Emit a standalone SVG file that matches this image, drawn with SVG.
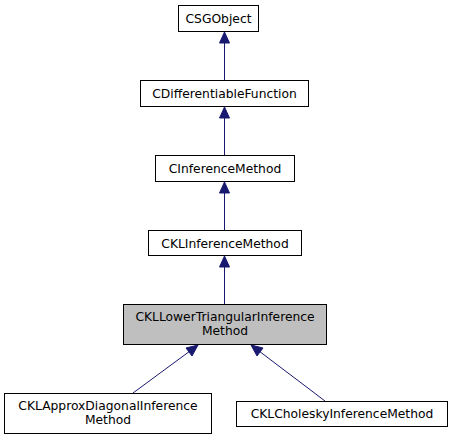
<svg xmlns="http://www.w3.org/2000/svg" width="453" height="440" viewBox="0 0 453 440">
<style>
.box{fill:#ffffff;stroke:#000000;stroke-width:1}
.cur{fill:#bfbfbf;stroke:#000000;stroke-width:1}
text{font-family:"DejaVu Sans",sans-serif;font-size:12.3px;fill:#000000;text-anchor:middle}
.edge{stroke:#191970;stroke-width:1;fill:none}
.head{fill:#191970;stroke:#191970;stroke-width:1}
</style>
<rect width="453" height="440" fill="#ffffff"/>
<g id="connectors">
<line class="edge" x1="224.5" y1="81" x2="224.5" y2="42"/>
<polygon class="head" points="224.5,32 219.5,43 229.5,43"/>
<line class="edge" x1="224.5" y1="156" x2="224.5" y2="117"/>
<polygon class="head" points="224.5,107 219.5,118 229.5,118"/>
<line class="edge" x1="224.5" y1="231" x2="224.5" y2="192"/>
<polygon class="head" points="224.5,182 219.5,193 229.5,193"/>
<line class="edge" x1="224.5" y1="305" x2="224.5" y2="266"/>
<polygon class="head" points="224.5,256 219.5,267 229.5,267"/>
<line class="edge" x1="133" y1="393" x2="190" y2="351"/>
<polygon class="head" points="198,345 186,348 192,356"/>
<line class="edge" x1="325" y1="401" x2="259" y2="351"/>
<polygon class="head" points="251,345 257,356 263,348"/>
</g>
<g id="node-csgobject">
<rect class="box" x="178.5" y="5.5" width="80" height="26"/>
<text x="218.5" y="23">CSGObject</text>
</g>
<g id="node-cdifferentiablefunction">
<rect class="box" x="140.5" y="80.5" width="168" height="26"/>
<text x="224.5" y="98">CDifferentiableFunction</text>
</g>
<g id="node-cinferencemethod">
<rect class="box" x="155.5" y="155.5" width="139" height="26"/>
<text x="225" y="173">CInferenceMethod</text>
</g>
<g id="node-cklinferencemethod">
<rect class="box" x="148.5" y="230.5" width="153" height="25"/>
<text x="225" y="247.5">CKLInferenceMethod</text>
</g>
<g id="node-ckllowertriangular">
<rect class="cur" x="123.5" y="304.5" width="203" height="40"/>
<text x="225" y="321">CKLLowerTriangularInference</text>
<text x="225" y="335">Method</text>
</g>
<g id="node-cklapproxdiagonal">
<rect class="box" x="4.5" y="393.5" width="207" height="40"/>
<text x="108" y="410">CKLApproxDiagonalInference</text>
<text x="108" y="424">Method</text>
</g>
<g id="node-cklcholesky">
<rect class="box" x="236.5" y="401.5" width="211" height="25"/>
<text x="342" y="418">CKLCholeskyInferenceMethod</text>
</g>
</svg>
